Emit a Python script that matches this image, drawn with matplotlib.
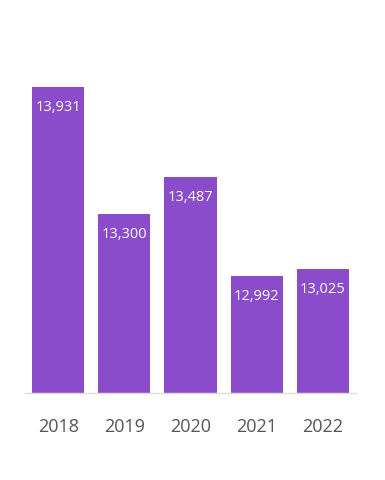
import matplotlib
matplotlib.use("Agg")
import matplotlib.pyplot as plt

years = ["2018", "2019", "2020", "2021", "2022"]
values = [13931, 13300, 13487, 12992, 13025]

BAR_COLOR = "#8A4CCB"

W, H = 385, 481
fig = plt.figure(figsize=(W / 100, H / 100), dpi=100)
# axes spans x 25..356, y 20..394 in pixel coords
ax = fig.add_axes([25 / W, 1 - 394 / H, 331 / W, 374 / H])

x = list(range(len(years)))
ax.bar(x, values, width=0.79, color=BAR_COLOR, zorder=2)
ax.set_xlim(-0.5, 4.5)
ax.set_ylim(12411, 14270)

for xi, v in zip(x, values):
    ax.annotate(f"{v:,}", xy=(xi, v), xytext=(0, -19.5), textcoords="offset pixels",
                ha="center", va="center", color="white", fontsize=10.5,
                family=["Open Sans", "DejaVu Sans"])

ax.set_xticks(x)
ax.set_xticklabels(years, fontsize=13, color="#555555", family=["Open Sans", "DejaVu Sans"])
ax.tick_params(axis="x", length=0, pad=17)
ax.set_yticks([])
for side in ("top", "right", "left"):
    ax.spines[side].set_visible(False)
ax.spines["bottom"].set_color("#dddddd")
ax.spines["bottom"].set_linewidth(1)

fig.savefig("out.png", dpi=100)
